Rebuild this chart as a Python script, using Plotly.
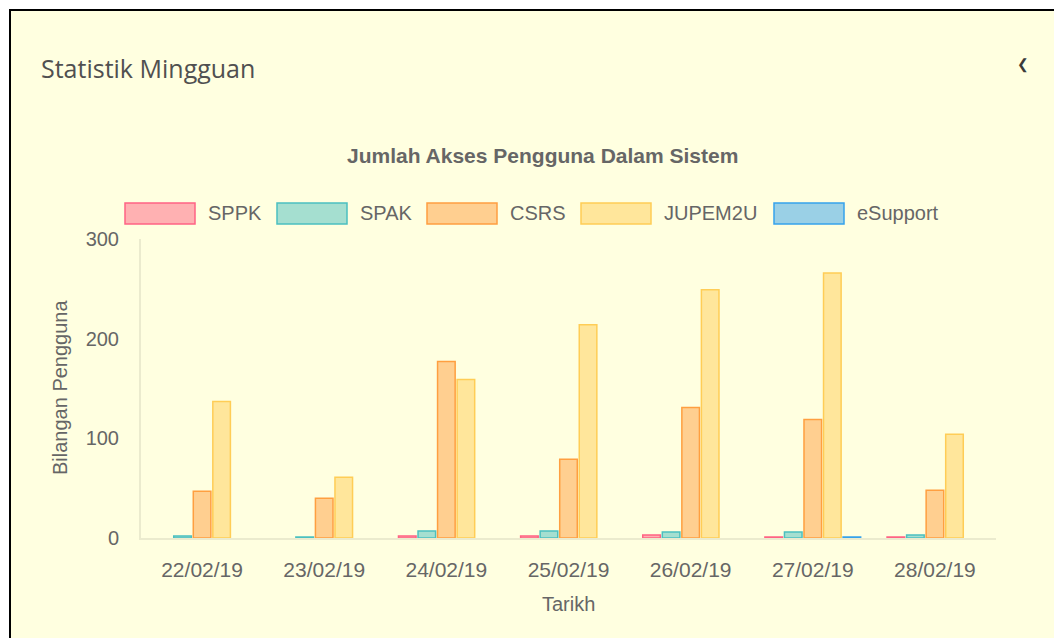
import plotly.graph_objects as go

# ---- data ----
dates = ["22/02/19", "23/02/19", "24/02/19", "25/02/19", "26/02/19", "27/02/19", "28/02/19"]
sppk = [0, 0, 2, 2, 3, 1, 1]
spak = [2, 1, 7, 7, 6, 6, 3]
csrs = [47, 40, 177, 79, 131, 119, 48]
jupem2u = [137, 61, 159, 214, 249, 266, 104]
esupport = [0, 0, 0, 0, 0, 1, 0]

series_names = ["SPPK", "SPAK", "CSRS", "JUPEM2U", "eSupport"]
series_values = [sppk, spak, csrs, jupem2u, esupport]
fills = ["rgba(255,99,132,0.5)", "rgba(75,192,192,0.5)", "rgba(255,159,64,0.5)",
         "rgba(255,205,86,0.5)", "rgba(54,162,235,0.5)"]
borders = ["rgb(255,99,132)", "rgb(75,192,192)", "rgb(255,159,64)",
           "rgb(255,205,86)", "rgb(54,162,235)"]

# ---- layout geometry (page pixels; page body has an 8px margin) ----
OFF = 8
W, H = 1062 - OFF, 638 - OFF
L, R, T, B = 141 - OFF, 996 - OFF, 239 - OFF, 538 - OFF
BG = "#FFFFE0"
FONT = "Liberation Sans, Arial, sans-serif"
TXT = "#666666"


def px(x):
    return (x - OFF - L) / (R - L)


def py(y):
    return (B - (y - OFF)) / (B - T)


fig = go.Figure()
for name, vals, f, b in zip(series_names, series_values, fills, borders):
    lw = [0 if v == 0 else 1.5 for v in vals]
    fig.add_trace(go.Bar(x=dates, y=vals, name=name,
                         marker=dict(color=f, line=dict(color=b, width=lw)),
                         showlegend=False))

shapes = [
    dict(type="rect", xref="paper", yref="paper", x0=px(10), x1=px(1090), y0=py(680), y1=py(10),
         fillcolor=BG, line=dict(color="black", width=2), layer="below"),
]
annotations = [
    dict(text="Statistik Mingguan", xref="paper", yref="paper", x=px(39), y=py(68), xanchor="left",
         yanchor="middle", showarrow=False, font=dict(family="Open Sans", size=25, color="#505050")),
    dict(text="❮", xref="paper", yref="paper", x=px(1023), y=py(65), xanchor="center",
         yanchor="middle", showarrow=False, font=dict(family="DejaVu Sans", size=14, color="#3a3a3a")),
    dict(text="<b>Jumlah Akses Pengguna Dalam Sistem</b>", xref="paper", yref="paper", x=px(542), y=py(155),
         xanchor="center", yanchor="middle", showarrow=False, font=dict(family=FONT, size=21, color=TXT)),
    dict(text="Tarikh", xref="paper", yref="paper", x=px(568), y=py(604), xanchor="center",
         yanchor="middle", showarrow=False, font=dict(family=FONT, size=20, color=TXT)),
    dict(text="Bilangan Pengguna", xref="paper", yref="paper", x=px(60), y=py(388), xanchor="center",
         yanchor="middle", textangle=-90, showarrow=False, font=dict(family=FONT, size=20, color=TXT)),
]

box_x = [125, 277, 427, 581, 774]
for name, f, b, x0 in zip(series_names, fills, borders, box_x):
    shapes.append(dict(type="rect", xref="paper", yref="paper", x0=px(x0), x1=px(x0 + 70),
                       y0=py(224), y1=py(203), fillcolor=f, line=dict(color=b, width=1.5)))
    annotations.append(dict(text=name, xref="paper", yref="paper", x=px(x0 + 81), y=py(213),
                            xanchor="left", yanchor="middle", showarrow=False,
                            font=dict(family=FONT, size=20, color=TXT)))

fig.update_layout(
    width=W, height=H,
    margin=dict(l=L, r=W - R, t=T, b=H - B, pad=0),
    paper_bgcolor="white", plot_bgcolor=BG,
    barmode="group", bargap=0.2, bargroupgap=0.1,
    shapes=shapes, annotations=annotations,
    font=dict(family=FONT, size=20, color=TXT),
)
fig.update_xaxes(showgrid=False, showline=True, linecolor="rgba(0,0,0,0.08)", linewidth=2,
                 ticks="", ticklabelstandoff=12, tickfont=dict(size=21, color=TXT), zeroline=False)
fig.update_yaxes(range=[0, 300], dtick=100, showgrid=False, showline=True,
                 linecolor="rgba(0,0,0,0.08)", linewidth=2, ticks="", ticklabelstandoff=16,
                 tickfont=dict(size=20, color=TXT), zeroline=False)

fig.write_html("out.html")
